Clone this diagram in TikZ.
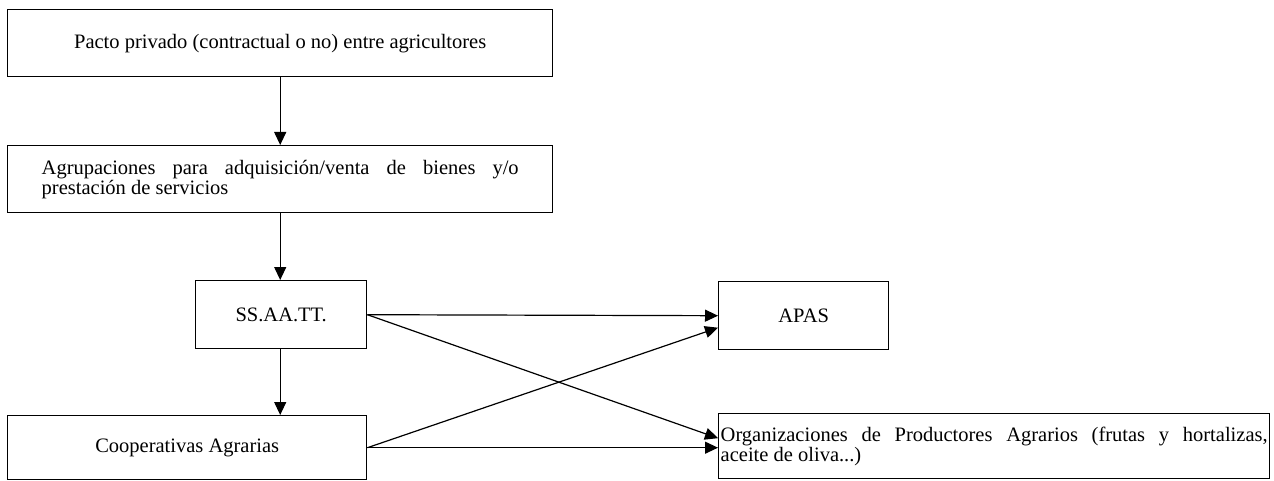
\documentclass[tikz,border=0pt]{standalone}
\usepackage{fontspec}
\setmainfont{Liberation Serif}
\usetikzlibrary{arrows.meta,calc}
\begin{document}
\begin{tikzpicture}[x=1pt,y=-1pt,
  box/.style={draw, line width=1.4pt, inner sep=0pt, font=\fontsize{20.5}{20}\selectfont},
  arr/.style={line width=1.2pt, -{Triangle[length=13pt,width=12pt]}}]
\useasboundingbox (0,0) rectangle (1274,481);
\node[box, minimum width=545pt, minimum height=67pt, anchor=north west] (pacto) at (7,9)
  {Pacto privado (contractual o no) entre agricultores};
\node[box, text width=477pt, inner xsep=34pt, minimum height=67pt, align=justify, anchor=north west] (agrup) at (7,145)
  {Agrupaciones para adquisición/venta de bienes y/o\linebreak prestación de servicios};
\node[box, minimum width=171pt, minimum height=68pt, anchor=north west] (ss) at (195,280) {SS.AA.TT.};
\node[box, minimum width=170pt, minimum height=68pt, anchor=north west] (apas) at (718,281) {APAS};
\node[box, minimum width=359pt, minimum height=64pt, anchor=north west] (coop) at (7,415) {Cooperativas Agrarias};
\node[box, text width=547pt, inner xsep=2pt, minimum height=65pt, align=justify, anchor=north west] (org) at (718,413)
  {Organizaciones de Productores Agrarios (frutas y hortalizas,\linebreak aceite de oliva...)};
\draw[arr] (pacto.south) -- (agrup.north);
\draw[arr] (agrup.south) -- (agrup.south |- ss.north);
\draw[arr] (agrup.south |- ss.south) -- (agrup.south |- coop.north);
\draw[arr] (ss.east) -- (apas.west);
\draw[arr] (ss.east) -- ([yshift=8pt]org.west);
\draw[arr] (coop.east) -- ([yshift=-12pt]apas.west);
\draw[arr] (coop.east) -- (coop.east -| org.west);
\end{tikzpicture}
\end{document}
